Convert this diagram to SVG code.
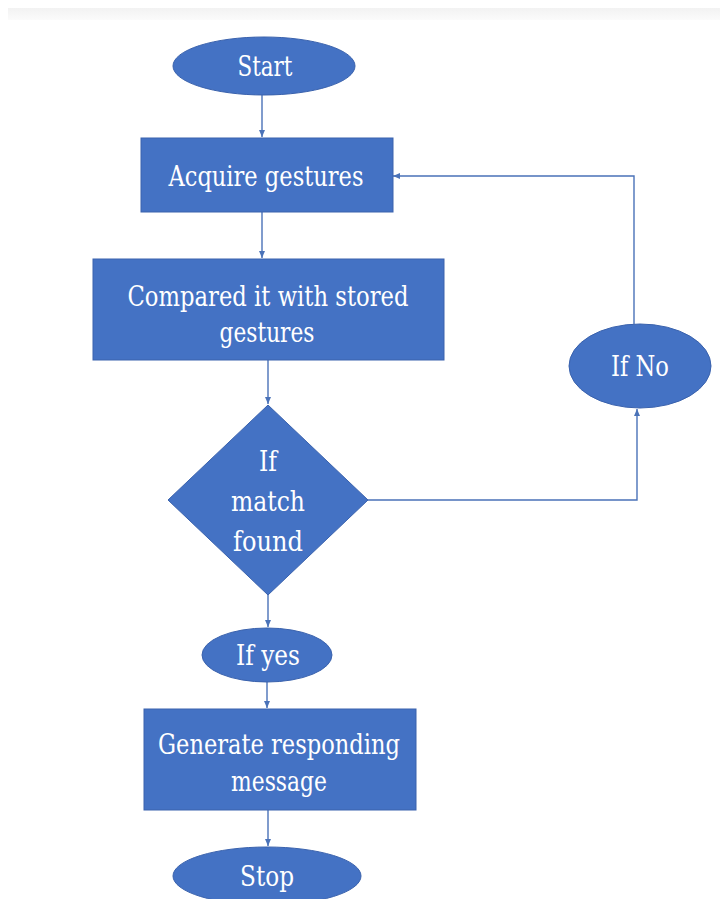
<svg xmlns="http://www.w3.org/2000/svg" width="722" height="899" viewBox="0 0 722 899">
<defs>
<linearGradient id="band" x1="0" y1="0" x2="0" y2="1">
<stop offset="0" stop-color="#f2f2f2"/>
<stop offset="1" stop-color="#fbfbfb"/>
</linearGradient>
<marker id="arr" markerWidth="8" markerHeight="8" refX="7" refY="4" orient="auto" markerUnits="userSpaceOnUse">
<path d="M0,1 L7,4 L0,7 Z" fill="#4a72b8"/>
</marker>
<style>
.shape{fill:#4472c4;stroke:#3a62ad;stroke-width:1}
.lbl{fill:#ffffff;text-anchor:middle}
.con{fill:none;stroke:#4a72b8;stroke-width:1.4;marker-end:url(#arr)}
</style>
</defs>
<rect x="0" y="0" width="722" height="899" fill="#ffffff"/>
<rect x="8" y="8" width="712" height="12" fill="url(#band)"/>
<g id="connectors">
<path class="con" d="M262,95 L262,137"/>
<path class="con" d="M262,212 L262,258"/>
<path class="con" d="M268,360 L268,404"/>
<path class="con" d="M268,595 L268,627"/>
<path class="con" d="M267,682 L267,708"/>
<path class="con" d="M268,810 L268,846"/>
<path class="con" d="M368,500 L637,500 L637,409"/>
<path class="con" d="M634,324 L634,176 L393,176"/>
</g>
<g font-family="'DejaVu Serif', serif" font-size="27">
<g id="start">
<ellipse class="shape" cx="264" cy="66" rx="91" ry="29"/>
<text class="lbl" x="265" y="76" textLength="55" lengthAdjust="spacingAndGlyphs">Start</text>
</g>
<g id="acquire">
<rect class="shape" x="141" y="138" width="252" height="74"/>
<text class="lbl" x="266" y="186" textLength="195" lengthAdjust="spacingAndGlyphs">Acquire gestures</text>
</g>
<g id="compare">
<rect class="shape" x="93" y="259" width="351" height="101"/>
<text class="lbl" x="268" y="306" textLength="281" lengthAdjust="spacingAndGlyphs">Compared it with stored</text>
<text class="lbl" x="267" y="342" textLength="95" lengthAdjust="spacingAndGlyphs">gestures</text>
</g>
<g id="decision">
<polygon class="shape" points="268,405 368,500 268,595 168,500"/>
<text class="lbl" x="268" y="471" textLength="18" lengthAdjust="spacingAndGlyphs">If</text>
<text class="lbl" x="268" y="511" textLength="74" lengthAdjust="spacingAndGlyphs">match</text>
<text class="lbl" x="268" y="551" textLength="70" lengthAdjust="spacingAndGlyphs">found</text>
</g>
<g id="ifno">
<ellipse class="shape" cx="640" cy="366" rx="71" ry="42"/>
<text class="lbl" x="640" y="376" textLength="58" lengthAdjust="spacingAndGlyphs">If No</text>
</g>
<g id="ifyes">
<ellipse class="shape" cx="267" cy="655" rx="65" ry="27"/>
<text class="lbl" x="268" y="665" textLength="64" lengthAdjust="spacingAndGlyphs">If yes</text>
</g>
<g id="generate">
<rect class="shape" x="144" y="709" width="272" height="101"/>
<text class="lbl" x="279" y="754" textLength="242" lengthAdjust="spacingAndGlyphs">Generate responding</text>
<text class="lbl" x="279" y="791" textLength="96" lengthAdjust="spacingAndGlyphs">message</text>
</g>
<g id="stop">
<ellipse class="shape" cx="267" cy="876" rx="94" ry="29"/>
<text class="lbl" x="267" y="886" textLength="54" lengthAdjust="spacingAndGlyphs">Stop</text>
</g>
</g>
</svg>
